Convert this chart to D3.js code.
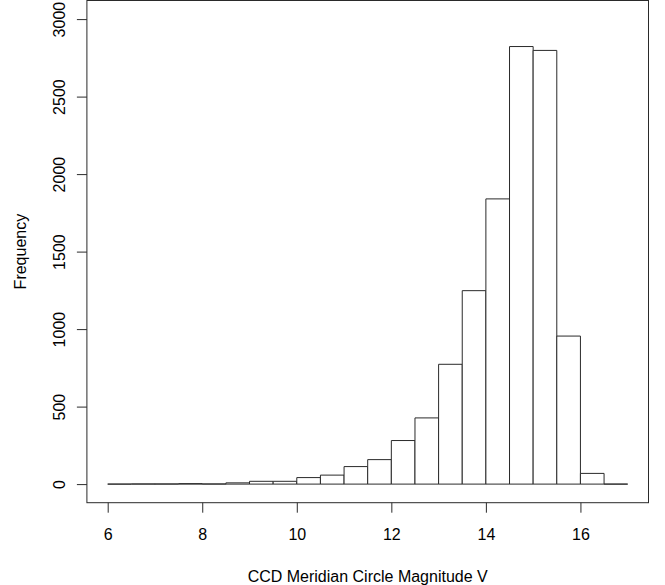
<!DOCTYPE html>
<html>
<head>
<meta charset="utf-8">
<script src="https://cdn.jsdelivr.net/npm/d3@7"></script>
<style>
  body { margin: 0; background: #fff; }
  text { font-family: "Liberation Sans", Arial, Helvetica, sans-serif; fill: #000; }
</style>
</head>
<body>
<div class="chart"></div>
<script>
// Histogram bin edges (width 0.5) and counts
const binStarts = [6, 6.5, 7, 7.5, 8, 8.5, 9, 9.5, 10, 10.5, 11, 11.5, 12, 12.5, 13, 13.5, 14, 14.5, 15, 15.5, 16, 16.5];
const binWidth = 0.5;
const counts = [0, 1, 1, 3, 1, 8, 18, 18, 42, 58, 113, 158, 281, 427, 773, 1248, 1840, 2823, 2798, 955, 69, 0];
const xTicks = [6, 8, 10, 12, 14, 16];
const yTicks = [0, 500, 1000, 1500, 2000, 2500, 3000];

const W = 665, H = 585;
// plot box (R style, data range padded 4% each side)
const box = { left: 86.9, right: 648.5, top: 0.5, bottom: 502.7 };

const xMin = 6, xMax = 17, yMin = 0, yMax = 3000;
const xPad = (xMax - xMin) * 0.04, yPad = (yMax - yMin) * 0.04;

const x = d3.scaleLinear()
  .domain([xMin - xPad, xMax + xPad])
  .range([box.left, box.right]);

const y = d3.scaleLinear()
  .domain([yMin - yPad, yMax + yPad])
  .range([box.bottom, box.top]);

const svg = d3.select(".chart")
  .append("svg")
  .attr("width", W)
  .attr("height", H);

const stroke = "#2a2a2a";

// Bars as closed paths so zero-count bins still show as a line
svg.append("g")
  .selectAll("path")
  .data(counts)
  .join("path")
  .attr("d", (d, i) => {
    const p = d3.path();
    const x0 = x(binStarts[i]), x1 = x(binStarts[i] + binWidth);
    p.moveTo(x0, y(0));
    p.lineTo(x0, y(d));
    p.lineTo(x1, y(d));
    p.lineTo(x1, y(0));
    p.closePath();
    return p.toString();
  })
  .attr("fill", "#fff")
  .attr("stroke", stroke)
  .attr("stroke-width", 1);

// Box around plot
svg.append("rect")
  .attr("x", box.left)
  .attr("y", box.top)
  .attr("width", box.right - box.left)
  .attr("height", box.bottom - box.top)
  .attr("fill", "none")
  .attr("stroke", stroke)
  .attr("stroke-width", 1);

// X axis
const xAxis = svg.append("g")
  .attr("transform", `translate(0,${box.bottom})`)
  .call(d3.axisBottom(x).tickValues(xTicks).tickSize(10).tickPadding(16).tickFormat(d3.format("d")));
xAxis.select(".domain").remove();
xAxis.selectAll("line").attr("stroke", stroke);
xAxis.selectAll("text").style("font-size", "16px").attr("fill", "#000");

// Y axis
const yAxis = svg.append("g")
  .attr("transform", `translate(${box.left},0)`)
  .call(d3.axisLeft(y).tickValues(yTicks).tickSize(10).tickFormat(d3.format("d")));
yAxis.select(".domain").remove();
yAxis.selectAll("line").attr("stroke", stroke);
yAxis.selectAll("text")
  .style("font-size", "16px")
  .attr("fill", "#000")
  .attr("x", null)
  .attr("dy", null)
  .attr("text-anchor", "middle")
  .attr("transform", "translate(-22,0) rotate(-90)");

// Axis titles
svg.append("text")
  .attr("x", (box.left + box.right) / 2)
  .attr("y", 582)
  .attr("text-anchor", "middle")
  .style("font-size", "16px")
  .text("CCD Meridian Circle Magnitude V");

svg.append("text")
  .attr("transform", `translate(26,${(box.top + box.bottom) / 2}) rotate(-90)`)
  .attr("text-anchor", "middle")
  .style("font-size", "16px")
  .text("Frequency");
</script>
</body>
</html>
